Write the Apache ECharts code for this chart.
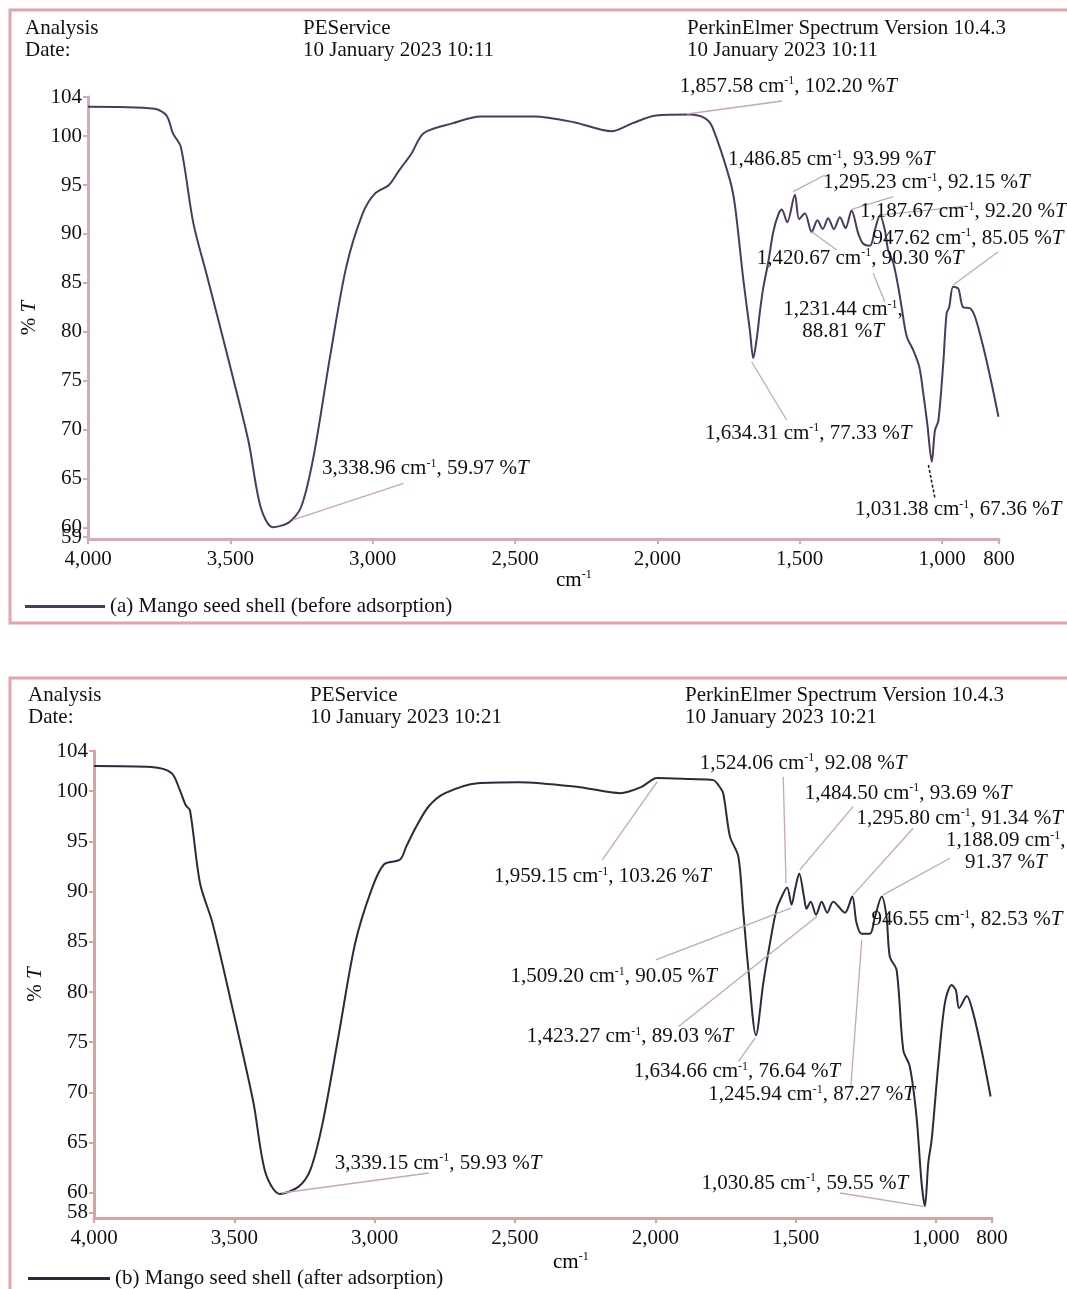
<!DOCTYPE html>
<html>
<head>
<meta charset="utf-8">
<script src="https://cdn.jsdelivr.net/npm/echarts@6/dist/echarts.min.js"></script>
<style>
html, body { margin: 0; padding: 0; background: #fff; }
#main { width: 1067px; height: 1289px; }
</style>
</head>
<body>
<div id="main"></div>
<script>
// wavenumber (cm-1) and %T
var beforeWn = [4000, 3767, 3724, 3702, 3674, 3630, 3581, 3509, 3437, 3394, 3351, 3294, 3251, 3208, 3150, 3093, 3035, 2993, 2943, 2907, 2864, 2821, 2720, 2620, 2433, 2290, 2161, 2089, 2004, 1889, 1831, 1805, 1745, 1727, 1698, 1675, 1663, 1650, 1640, 1628, 1610, 1593, 1575, 1563, 1544, 1517, 1502, 1482, 1458, 1438, 1419, 1400, 1380, 1359, 1339, 1318, 1294, 1277, 1253, 1236, 1218, 1201, 1189, 1171, 1154, 1142, 1124, 1101, 1080, 1066, 1052, 1036, 1025, 1013, 996, 984, 975, 961, 943, 926, 902, 884, 855, 826, 802];
var beforeT = [103.0, 102.8, 102.1, 100.3, 98.9, 91.1, 85.6, 77.4, 68.9, 62.1, 60.0, 60.5, 62.1, 67.2, 77.4, 86.6, 92.1, 94.1, 95.0, 96.5, 98.2, 100.3, 101.3, 102.0, 102.0, 101.4, 100.5, 101.3, 102.1, 102.2, 101.8, 100.8, 95.5, 92.8, 85.3, 80.1, 77.3, 79.5, 82.0, 84.5, 87.2, 90.2, 92.0, 92.5, 91.2, 94.0, 91.5, 92.1, 90.2, 91.4, 90.5, 91.6, 90.5, 91.7, 90.6, 92.4, 90.0, 89.0, 88.8, 90.4, 91.9, 90.4, 88.3, 87.0, 84.6, 82.5, 79.5, 78.1, 76.4, 73.7, 70.6, 66.7, 69.9, 70.9, 76.7, 81.9, 82.5, 84.6, 84.4, 82.5, 82.4, 81.5, 78.4, 74.7, 71.3];

var afterWn = [4000, 3796, 3724, 3694, 3673, 3658, 3622, 3578, 3505, 3432, 3389, 3338, 3272, 3229, 3185, 3127, 3069, 3011, 2967, 2909, 2887, 2851, 2807, 2749, 2633, 2487, 2269, 2124, 2051, 1993, 1876, 1793, 1775, 1758, 1734, 1704, 1687, 1669, 1641, 1615, 1591, 1568, 1544, 1530, 1514, 1502, 1487, 1470, 1461, 1446, 1427, 1407, 1387, 1366, 1324, 1298, 1283, 1265, 1235, 1217, 1193, 1176, 1164, 1140, 1116, 1093, 1069, 1051, 1039, 1027, 1015, 992, 968, 944, 929, 917, 890, 867, 837, 805];
var afterT = [102.5, 102.4, 101.8, 100.1, 98.6, 98.1, 90.8, 86.9, 78.2, 69.0, 62.0, 59.9, 60.6, 62.3, 67.0, 75.9, 84.9, 90.2, 92.7, 93.2, 94.5, 96.5, 98.5, 99.8, 100.8, 100.9, 100.4, 99.8, 100.4, 101.3, 101.2, 101.1, 100.6, 99.8, 95.5, 93.5, 88.2, 82.5, 75.7, 80.9, 84.9, 88.2, 89.8, 90.4, 88.7, 90.2, 91.8, 89.5, 88.3, 89.0, 87.7, 89.0, 87.9, 89.0, 87.9, 89.5, 86.9, 85.8, 85.8, 87.5, 89.5, 87.5, 83.5, 82.2, 74.2, 72.6, 67.6, 61.0, 58.7, 63.0, 65.3, 72.6, 78.9, 80.7, 80.2, 78.4, 79.6, 77.9, 74.2, 69.6];

var xTicks = [4000, 3500, 3000, 2500, 2000, 1500, 1000, 800];
var yTicksA = [104, 100, 95, 90, 85, 80, 75, 70, 65, 60];
var yTicksB = [104, 100, 95, 90, 85, 80, 75, 70, 65, 60];
// bottom-most labels sit too close to 60, drawn on an extra axis so they are not dropped
var yLowA = [59];
var yLowB = [58];

var nameA = '(a) Mango seed shell (before adsorption)';
var nameB = '(b) Mango seed shell (after adsorption)';

// peak labels: leader from peak to end, text placed at "at" (data coords)
var annotA = [
	{ wn: '1,857.58', t: '102.20', peak: [1896, 102.26], end: [1562, 103.59], at: [1921, 105.12] },
	{ wn: '1,486.85', t: '93.99', peak: [1523, 94.32], end: [1411, 96.02], at: [1752, 97.56] },
	{ wn: '1,295.23', t: '92.15', peak: [1318, 92.52], end: [1171, 93.81], at: [1418, 95.21] },
	{ wn: '1,187.67', t: '92.20', peak: [1218, 91.93], end: [913, 92.85], at: [1288, 92.27] },
	{ wn: '947.62', t: '85.05', peak: [961, 84.78], end: [803, 88.18], at: [1244, 89.55] },
	{ wn: '1,420.67', t: '90.30', peak: [1458, 90.23], end: [1370, 88.36], at: [1651, 87.51] },
	{ wn: '1,231.44', t: '88.81', peak: [1242, 85.97], end: [1201, 83.07], at: [1348, 81.1], wrap: true },
	{ wn: '1,634.31', t: '77.33', peak: [1669, 76.93], end: [1546, 70.97], at: [1833, 69.61] },
	{ wn: '1,031.38', t: '67.36', peak: [1048, 66.37], end: [1025, 62.97], at: [1306, 61.77], dark: true },
	{ wn: '3,338.96', t: '59.97', peak: [3280, 60.75], end: [2892, 64.5], at: [3178, 65.96] }
];
var annotB = [
	{ wn: '1,524.06', t: '92.08', peak: [1534, 90.84], end: [1544, 101.44], at: [1841, 102.78] },
	{ wn: '1,484.50', t: '93.69', peak: [1485, 92.16], end: [1295, 98.46], at: [1467, 99.79] },
	{ wn: '1,295.80', t: '91.34', peak: [1295, 89.67], end: [1081, 96.31], at: [1283, 97.3] },
	{ wn: '1,188.09', t: '91.37', peak: [1188, 89.67], end: [950, 93.32], at: [751, 93.95], wrap: true },
	{ wn: '946.55', t: '82.53', peak: [950, 81.21], end: [790, 85.69], at: [1229, 87.18] },
	{ wn: '1,959.15', t: '103.26', peak: [1993, 100.95], end: [2189, 93.15], at: [2575, 91.49] },
	{ wn: '1,509.20', t: '90.05', peak: [1517, 88.35], end: [1998, 83.2], at: [2516, 81.54] },
	{ wn: '1,423.27', t: '89.03', peak: [1424, 87.51], end: [1917, 76.57], at: [2458, 75.57] },
	{ wn: '1,634.66', t: '76.64', peak: [1644, 75.41], end: [1704, 73.08], at: [2077, 72.09] },
	{ wn: '1,245.94', t: '87.27', peak: [1264, 85.19], end: [1303, 70.6], at: [1811, 69.77] },
	{ wn: '1,030.85', t: '59.55', peak: [1045, 58.66], end: [1342, 59.99], at: [1835, 60.98] },
	{ wn: '3,339.15', t: '59.93', peak: [3331, 59.99], end: [2807, 61.98], at: [3142, 62.97] }
];

var serif = '"Liberation Serif", "Times New Roman", serif';
var rich = {
	n: { fontFamily: serif, fontSize: 21, color: '#111', lineHeight: 22 },
	s: { fontFamily: serif, fontSize: 12, color: '#111', lineHeight: 12, verticalAlign: 'top' },
	i: { fontFamily: serif, fontSize: 21, color: '#111', fontStyle: 'italic', lineHeight: 22 }
};

function zip(a, b) {
	var out = [];
	for (var k = 0; k < a.length; k++) out.push([a[k], b[k]]);
	return out;
}

function labelText(a) {
	if (a.wrap) {
		return '{n|' + a.wn + ' cm}{s|-1}{n|,}\n{n|' + a.t + ' %}{i|T}';
	}
	return '{n|' + a.wn + ' cm}{s|-1}{n|, ' + a.t + ' %}{i|T}';
}

function leaderLines(list) {
	return list.map(function (a) {
		return [
			{ coord: a.peak, lineStyle: { color: a.dark ? '#222' : '#c6a7b6', width: a.dark ? 1.6 : 1.3, type: a.dark ? [3, 2] : 'solid' } },
			{ coord: a.end }
		];
	});
}

function labelPoints(list) {
	return list.map(function (a) {
		return {
			value: a.at,
			label: {
				position: a.wrap ? 'inside' : 'right',
				distance: 0,
				align: a.wrap ? 'center' : 'left',
				formatter: labelText(a)
			}
		};
	});
}

function xAxisOf(idx, color) {
	return {
		gridIndex: idx, type: 'value', inverse: true, min: 800, max: 4000,
		axisLine: { show: true, onZero: false, lineStyle: { color: color, width: 3 } },
		axisTick: { show: true, customValues: xTicks, length: 5, lineStyle: { color: color, width: 2 } },
		axisLabel: {
			customValues: xTicks, margin: 10, color: '#111', fontFamily: serif, fontSize: 21,
			formatter: function (v) { return v.toLocaleString('en-US'); }
		},
		splitLine: { show: false }
	};
}

function yAxisOf(idx, color, min, ticks) {
	return {
		gridIndex: idx, type: 'value', min: min, max: 104,
		name: '% {i|T}', nameLocation: 'middle', nameGap: 47, nameRotate: 90,
		nameTextStyle: { fontFamily: serif, fontSize: 21, color: '#111', rich: rich },
		axisLine: { show: true, lineStyle: { color: color, width: 3 } },
		axisTick: { show: true, customValues: ticks, length: 5, lineStyle: { color: color, width: 2 } },
		axisLabel: { customValues: ticks, margin: 6, color: '#111', fontFamily: serif, fontSize: 21 },
		splitLine: { show: false }
	};
}

function yLowAxisOf(idx, color, min, ticks) {
	return {
		gridIndex: idx, type: 'value', min: min, max: 104, position: 'left',
		axisLine: { show: false },
		axisTick: { show: true, customValues: ticks, length: 5, lineStyle: { color: color, width: 2 } },
		axisLabel: { customValues: ticks, margin: 6, color: '#111', fontFamily: serif, fontSize: 21, lineHeight: 14 },
		splitLine: { show: false }
	};
}

function headerText(x, y, text) {
	return { type: 'text', x: x, y: y, style: { text: text, fill: '#111', font: '21px ' + serif, verticalAlign: 'middle' } };
}

function unitText(x, y) {
	return { type: 'text', x: x, y: y, style: { text: '{n|cm}{s|-1}', rich: rich, verticalAlign: 'middle' } };
}

var myChart = echarts.init(document.getElementById('main'), null, { renderer: 'canvas' });

var option = {
	animation: false,
	backgroundColor: '#fff',
	grid: [
		{ left: 88, right: 68, top: 97, bottom: 750 },
		{ left: 94, right: 75, top: 751, bottom: 71 }
	],
	legend: [
		{
			data: [nameA], left: 20, top: 591, icon: 'rect', itemWidth: 80, itemHeight: 3,
			textStyle: { fontFamily: serif, fontSize: 21, color: '#111' }
		},
		{
			data: [nameB], left: 23, top: 1263, icon: 'rect', itemWidth: 82, itemHeight: 3,
			textStyle: { fontFamily: serif, fontSize: 21, color: '#111' }
		}
	],
	xAxis: [xAxisOf(0, '#d8a8bc'), xAxisOf(1, '#e0a0a2')],
	yAxis: [
		yAxisOf(0, '#d8a8bc', 58.8, yTicksA),
		yAxisOf(1, '#e0a0a2', 57.5, yTicksB),
		yLowAxisOf(0, '#d8a8bc', 58.8, yLowA),
		yLowAxisOf(1, '#e0a0a2', 57.5, yLowB)
	],
	graphic: [
		{ type: 'rect', shape: { x: 10, y: 10, width: 1100, height: 613 }, style: { fill: 'none', stroke: '#e3a3a8', lineWidth: 3 }, z: -1 },
		{ type: 'rect', shape: { x: 10, y: 678, width: 1100, height: 700 }, style: { fill: 'none', stroke: '#e3a3a8', lineWidth: 3 }, z: -1 },
		headerText(25, 28, 'Analysis'),
		headerText(25, 50, 'Date:'),
		headerText(303, 28, 'PEService'),
		headerText(303, 50, '10 January 2023 10:11'),
		headerText(687, 28, 'PerkinElmer Spectrum Version 10.4.3'),
		headerText(687, 50, '10 January 2023 10:11'),
		headerText(28, 695, 'Analysis'),
		headerText(28, 717, 'Date:'),
		headerText(310, 695, 'PEService'),
		headerText(310, 717, '10 January 2023 10:21'),
		headerText(685, 695, 'PerkinElmer Spectrum Version 10.4.3'),
		headerText(685, 717, '10 January 2023 10:21'),
		unitText(556, 580),
		unitText(553, 1262)
	],
	series: [
		{
			name: nameA, type: 'line', xAxisIndex: 0, yAxisIndex: 0,
			data: zip(beforeWn, beforeT), showSymbol: false, smooth: 0.3,
			lineStyle: { color: '#4b3a60', width: 2 }, itemStyle: { color: '#4b3a60' },
			markLine: { silent: true, symbol: ['none', 'none'], label: { show: false }, data: leaderLines(annotA) }
		},
		{
			name: nameB, type: 'line', xAxisIndex: 1, yAxisIndex: 1,
			data: zip(afterWn, afterT), showSymbol: false, smooth: 0.3,
			lineStyle: { color: '#2b2b3d', width: 2 }, itemStyle: { color: '#2b2b3d' },
			markLine: { silent: true, symbol: ['none', 'none'], label: { show: false }, data: leaderLines(annotB) }
		},
		{
			name: 'labelsA', type: 'scatter', xAxisIndex: 0, yAxisIndex: 0, clip: false,
			symbolSize: 0, itemStyle: { color: '#fff', opacity: 1 }, silent: true,
			label: { show: true, color: '#111', opacity: 1, rich: rich },
			data: labelPoints(annotA), z: 5
		},
		{
			name: 'labelsB', type: 'scatter', xAxisIndex: 1, yAxisIndex: 1, clip: false,
			symbolSize: 0, itemStyle: { color: '#fff', opacity: 1 }, silent: true,
			label: { show: true, color: '#111', opacity: 1, rich: rich },
			data: labelPoints(annotB), z: 5
		}
	]
};

myChart.setOption(option);
window.onresize = myChart.resize;
</script>
</body>
</html>
